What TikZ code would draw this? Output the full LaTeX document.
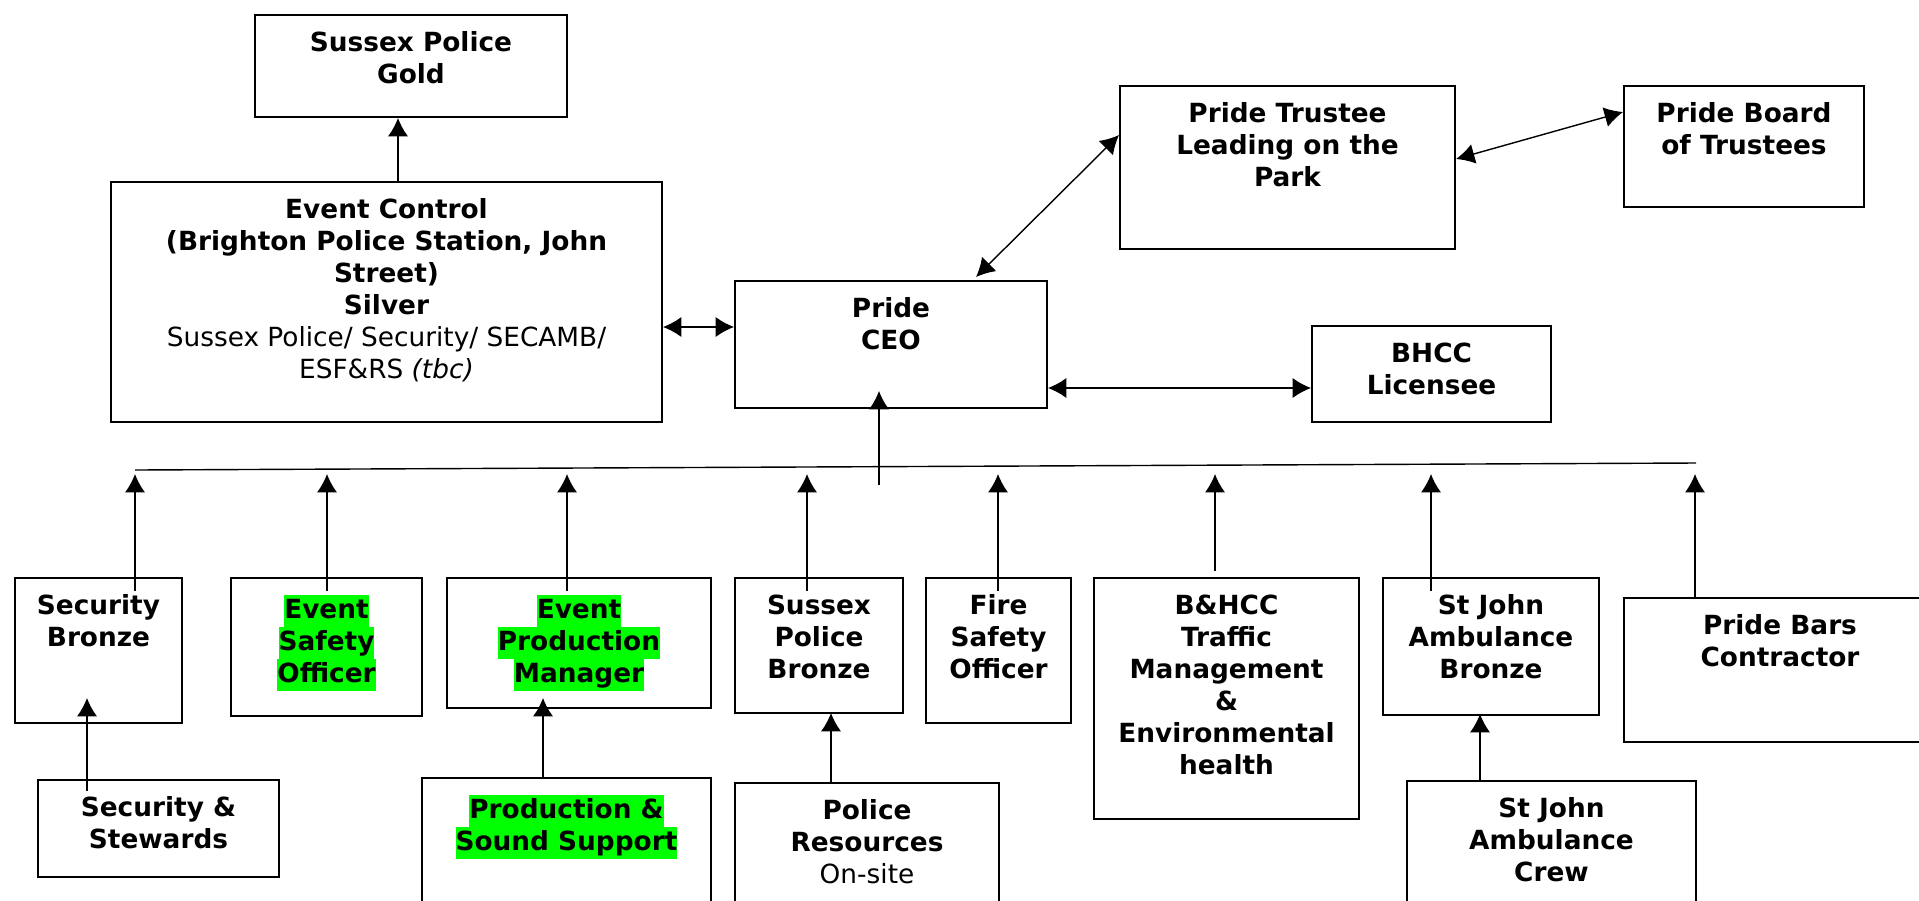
\documentclass[tikz,border=0pt]{standalone}
\usepackage{fontspec}
\setmainfont{DejaVu Sans}
\usetikzlibrary{arrows.meta, positioning, fit}
\definecolor{hlgreen}{HTML}{00FF00}
\newcommand{\hl}[1]{{\setlength{\fboxsep}{0pt}\colorbox{hlgreen}{\rule[-4.5pt]{0pt}{18.2pt}#1}}}

\begin{document}
\begin{tikzpicture}[x=0.02cm, y=-0.02cm, >={Latex[length=10.5pt,width=11.5pt]},
    orgbox/.style={draw, line width=1.1pt, inner sep=0pt},
    orgtext/.style={align=center, inner sep=0pt, font=\fontsize{15}{18.2}\selectfont\bfseries,
      execute at begin node={\rule{0pt}{13.7pt}}},
    link/.style={line width=0.8pt}]
    \useasboundingbox (0,0) rectangle (1919,900);

    % top row
    \node[orgbox, fit={(255,15) (567,117)}] (gold) {};
    \node[orgtext, below=0.345cm of gold.north] (gold-t) {Sussex Police\\Gold};

    \node[orgbox, fit={(111,182) (662,422)}] (ec) {};
    \node[orgtext, below=0.345cm of ec.north] (ec-t) {Event Control\\(Brighton Police Station, John\\Street)\\Silver\\
        {\mdseries Sussex Police/ Security/ SECAMB/}\\{\mdseries ESF\&RS \textit{(tbc)}}};

    \node[orgbox, fit={(735,281) (1047,408)}] (ceo) {};
    \node[orgtext, below=0.345cm of ceo.north] (ceo-t) {Pride\\CEO};

    \node[orgbox, fit={(1120,86) (1455,249)}] (trustee) {};
    \node[orgtext, below=0.345cm of trustee.north] (trustee-t) {Pride Trustee\\Leading on the\\Park};

    \node[orgbox, fit={(1624,86) (1864,207)}] (board) {};
    \node[orgtext, below=0.345cm of board.north] (board-t) {Pride Board\\of Trustees};

    \node[orgbox, fit={(1312,326) (1551,422)}] (bhcc) {};
    \node[orgtext, below=0.345cm of bhcc.north] (bhcc-t) {BHCC\\Licensee};

    % middle row
    \node[orgbox, fit={(15,578) (182,723)}] (secb) {};
    \node[orgtext, below=0.345cm of secb.north] (secb-t) {Security\\Bronze};

    \node[orgbox, fit={(231,578) (422,716)}] (eso) {};
    \node[orgtext, below=0.345cm of eso.north] (eso-t) {\hl{Event}\\\hl{Safety}\\\hl{Officer}};

    \node[orgbox, fit={(447,578) (711,708)}] (epm) {};
    \node[orgtext, below=0.345cm of epm.north] (epm-t) {\hl{Event}\\\hl{Production}\\\hl{Manager}};

    \node[orgbox, fit={(735,578) (903,713)}] (spb) {};
    \node[orgtext, below=0.345cm of spb.north] (spb-t) {Sussex\\Police\\Bronze};

    \node[orgbox, fit={(926,578) (1071,723)}] (fire) {};
    \node[orgtext, below=0.345cm of fire.north] (fire-t) {Fire\\Safety\\Officer};

    \node[orgbox, fit={(1094,578) (1359,819)}] (bhtraffic) {};
    \node[orgtext, below=0.345cm of bhtraffic.north] (bhtraffic-t) {B\&HCC\\Traffic\\Management\\\&\\Environmental\\health};

    \node[orgbox, fit={(1383,578) (1599,715)}] (sjb) {};
    \node[orgtext, below=0.345cm of sjb.north] (sjb-t) {St John\\Ambulance\\Bronze};

    \node[orgbox, fit={(1624,598) (1936,742)}] (bars) {};
    \node[orgtext, below=0.345cm of bars.north] (bars-t) {Pride Bars\\Contractor};

    % bottom row
    \node[orgbox, fit={(38,780) (279,877)}] (ss) {};
    \node[orgtext, below=0.345cm of ss.north] (ss-t) {Security \&\\Stewards};

    \node[orgbox, fit={(422,778) (711,930)}] (ps) {};
    \node[orgtext, below=0.345cm of ps.north] (ps-t) {\hl{Production \&}\\\hl{Sound Support}};

    \node[orgbox, fit={(735,783) (999,930)}] (pr) {};
    \node[orgtext, below=0.345cm of pr.north] (pr-t) {Police\\Resources\\{\mdseries On-site}};

    \node[orgbox, fit={(1407,781) (1696,930)}] (sjc) {};
    \node[orgtext, below=0.345cm of sjc.north] (sjc-t) {St John\\Ambulance\\Crew};

    % links between the top boxes
    \draw[link, ->] ([xshift=0.23cm]ec.north) -- ([xshift=0.23cm]ec.north |- gold.south);
    \draw[link, <->] ([yshift=-0.5cm]ec.east) -- ([yshift=-0.5cm]ec.east -| ceo.west);
    \draw[link, <->] ([xshift=1.7cm, yshift=0.06cm]ceo.north) -- ([yshift=0.65cm]trustee.west);
    \draw[link, <->] ([yshift=0.17cm]trustee.east) -- ([yshift=0.69cm]board.west);
    \draw[link, <->] ([yshift=-0.87cm]ceo.east) -- ([yshift=-0.87cm]ceo.east -| bhcc.west);

    % bus line
    \coordinate (busL) at (135,470);
    \coordinate (busR) at (1696,463);
    \draw[link] (busL) -- (busR);
    \coordinate (busC) at (879,485);
    \draw[link, ->] (busC) -- ([yshift=0.36cm]busC |- ceo.south);

    % middle row up to the bus
    \foreach \n/\x/\s in {secb/135/-0.28, eso/327/-0.28, epm/567/-0.28, spb/807/-0.28,
        fire/998/-0.28, bhtraffic/1215/0.12, sjb/1431/-0.28, bars/1695/0}
    {
        \coordinate (tip-\n) at (\x,474);
        \draw[link, ->] ([yshift=\s cm]tip-\n |- \n.north) -- (tip-\n);
    }

    % bottom row up
    \coordinate (ssup) at (87,0);
    \draw[link, ->] ([yshift=-0.24cm]ssup |- ss.north) -- ([yshift=0.52cm]ssup |- secb.south);
    \coordinate (psup) at (543,0);
    \draw[link, ->] (psup |- ps.north) -- ([yshift=0.22cm]psup |- epm.south);
    \coordinate (prup) at (831,0);
    \draw[link, ->] (prup |- pr.north) -- ([yshift=0.02cm]prup |- spb.south);
    \coordinate (sjup) at (1480,0);
    \draw[link, ->] (sjup |- sjc.north) -- ([yshift=0.04cm]sjup |- sjb.south);
\end{tikzpicture}
\end{document}
